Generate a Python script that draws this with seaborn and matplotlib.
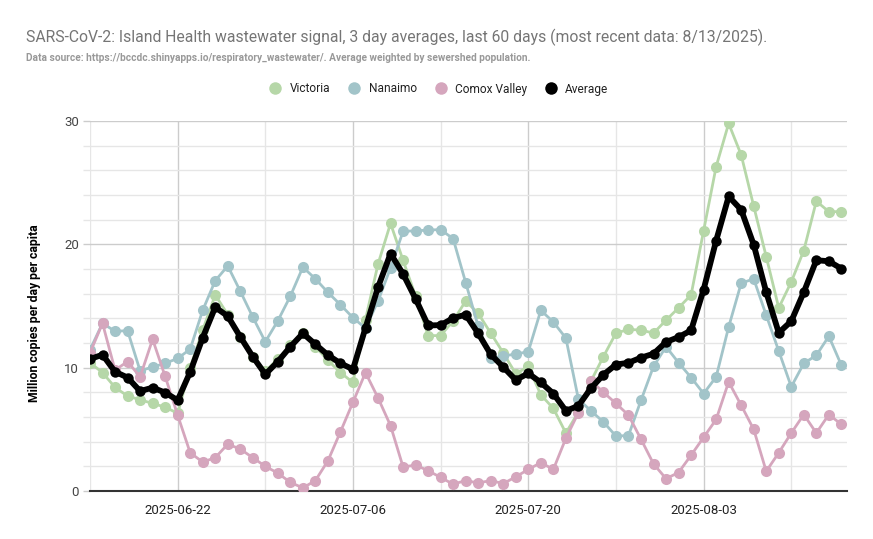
import matplotlib
matplotlib.use("Agg")
import matplotlib.pyplot as plt
import matplotlib.dates as mdates
from matplotlib.lines import Line2D
from matplotlib.ticker import MultipleLocator
import seaborn as sns
import pandas as pd

dates = pd.date_range("2025-06-15", "2025-08-14", freq="D")

victoria = [10.4, 9.6, 8.4, 7.7, 7.4, 7.1, 6.8, 6.3, 10.0, 13.05, 15.9, 14.3, 12.5, 10.9, 9.7,
            10.7, 11.8, 12.8, 11.7, 10.6, 9.6, 8.8, 13.9, 18.4, 21.7, 18.7, 15.8, 12.6, 12.6, 13.8,
            15.4, 14.4, 12.8, 11.2, 9.5, 10.1, 7.8, 6.7, 4.7, 6.4, 8.9, 10.9, 12.8, 13.1, 13.05,
            12.8, 13.85, 14.85, 15.9, 21.1, 26.3, 29.8, 27.25, 23.1, 19.0, 14.85, 16.95, 19.5,
            23.5, 22.65, 22.65]
nanaimo = [11.45, 13.6, 12.95, 13.0, 9.75, 10.05, 10.35, 10.75, 11.5, 14.65, 17.05, 18.25, 16.2,
           14.1, 12.1, 13.8, 15.8, 18.15, 17.2, 16.1, 15.1, 14.05, 13.2, 15.4, 18.1, 21.05, 21.1,
           21.15, 21.2, 20.45, 16.9, 13.35, 10.75, 10.95, 11.1, 11.3, 14.65, 13.7, 12.4, 7.45,
           6.5, 5.6, 4.45, 4.5, 7.35, 10.1, 11.7, 10.4, 9.2, 7.9, 9.25, 13.3, 16.85, 17.2, 14.25,
           11.35, 8.45, 10.35, 11.0, 12.55, 10.2]
comox = [11.2, 13.6, 9.8, 10.5, 9.25, 12.3, 9.3, 6.15, 3.1, 2.35, 2.7, 3.8, 3.4, 2.7, 2.0, 1.45,
         0.7, 0.25, 0.85, 2.45, 4.8, 7.2, 9.6, 7.55, 5.3, 1.95, 2.1, 1.65, 1.1, 0.55, 0.85, 0.65,
         0.85, 0.6, 1.15, 1.75, 2.3, 1.75, 4.27, 6.35, 8.95, 8.0, 7.1, 6.15, 4.2, 2.2, 1.0, 1.5,
         2.9, 4.35, 5.8, 8.85, 6.95, 5.0, 1.6, 3.1, 4.7, 6.2, 4.7, 6.2, 5.4]
average = [10.7, 11.05, 9.67, 9.2, 8.1, 8.38, 7.98, 7.36, 9.65, 12.43, 14.9, 14.18, 12.5, 10.89,
           9.46, 10.49, 11.7, 12.78, 11.89, 11.02, 10.35, 9.87, 13.23, 16.52, 19.25, 17.6, 15.58,
           13.42, 13.45, 14.02, 14.3, 12.78, 11.08, 10.05, 9.0, 9.54, 8.8, 7.9, 6.5, 6.9, 8.33,
           9.43, 10.25, 10.4, 10.81, 11.13, 12.08, 12.48, 13.02, 16.33, 20.3, 23.88, 22.8, 19.97,
           16.12, 12.83, 13.77, 16.12, 18.71, 18.63, 18.03]

series_names = ["Victoria", "Nanaimo", "Comox Valley", "Average"]
colors = ["#b6d7a8", "#a2c4c9", "#d5a6bd", "#000000"]
major_ticks = ["2025-06-22", "2025-07-06", "2025-07-20", "2025-08-03"]
minor_ticks = ["2025-06-15", "2025-06-29", "2025-07-13", "2025-07-27", "2025-08-10"]
y_ticks = [0, 10, 20, 30]

title = "SARS-CoV-2: Island Health wastewater signal, 3 day averages, last 60 days (most recent data: 8/13/2025)."
subtitle = ("Data source: https://bccdc.shinyapps.io/respiratory_wastewater/. "
            "Average weighted by sewershed population.")
ylabel = "Million copies per day per capita"

sns.set_theme(style="white")
plt.rcParams["font.family"] = ["Roboto", "DejaVu Sans"]

W, H = 873, 539
fig = plt.figure(figsize=(W / 100, H / 100), dpi=100)
ax = fig.add_axes([90 / W, 1 - 491 / H, (847 - 90) / W, (491 - 121) / H])

df = pd.DataFrame({"date": dates, "Victoria": victoria, "Nanaimo": nanaimo,
                   "Comox Valley": comox, "Average": average})

for name, col in zip(series_names, colors):
    if name == "Average":
        sns.lineplot(data=df, x="date", y=name, ax=ax, color=col, linewidth=4.2,
                     marker="o", markersize=7.5, markeredgewidth=0, zorder=5)
    else:
        sns.lineplot(data=df, x="date", y=name, ax=ax, color=col, linewidth=2,
                     marker="o", markersize=8, markeredgewidth=0, zorder=3)

ax.set_ylim(0, 30)
x0 = pd.Timestamp("2025-06-15")
ax.set_xlim(x0, x0 + pd.Timedelta(days=60.45))

ax.set_xticks(pd.to_datetime(major_ticks))
ax.set_xticks(pd.to_datetime(minor_ticks), minor=True)
ax.xaxis.set_major_formatter(mdates.DateFormatter("%Y-%m-%d"))
ax.set_yticks(y_ticks)
ax.yaxis.set_minor_locator(MultipleLocator(2))

ax.grid(which="major", color="#cccccc", linewidth=1)
ax.grid(which="minor", color="#e6e6e6", linewidth=1)
ax.set_axisbelow(True)

for s in ["top", "right", "left"]:
    ax.spines[s].set_visible(False)
ax.spines["bottom"].set_color("#333333")
ax.spines["bottom"].set_linewidth(1.5)

ax.tick_params(axis="x", which="both", length=0, pad=9, labelsize=9.5, labelcolor="#222222")
ax.tick_params(axis="y", which="major", length=5, width=1, color="#cccccc", pad=3,
               labelsize=9.5, labelcolor="#444444", left=True)
ax.tick_params(axis="y", which="minor", length=5, width=1, color="#e6e6e6", left=True)

ax.set_xlabel("")
ax.set_ylabel("")
fig.text(35 / W, 1 - 313 / H, ylabel, rotation=90, ha="center", va="center",
         fontsize=8.8, fontweight="bold", color="#000000", family=["Roboto", "DejaVu Sans"])

fig.text(26 / W, 1 - 42 / H, title, ha="left", va="baseline", fontsize=11.3, color="#757575")
fig.text(26 / W, 1 - 61 / H, subtitle, ha="left", va="baseline", fontsize=7.3,
         color="#999999", fontweight="bold")

handles = [Line2D([], [], marker="o", linestyle="", markersize=9, color=c, markeredgewidth=0)
           for c in colors]
fig.legend(handles, series_names, loc="center", bbox_to_anchor=(436 / W, 1 - 89 / H), ncol=4,
           frameon=False, fontsize=8.6, handletextpad=0.2, columnspacing=1.0,
           labelcolor="#222222")

fig.savefig("out.png", dpi=100)
